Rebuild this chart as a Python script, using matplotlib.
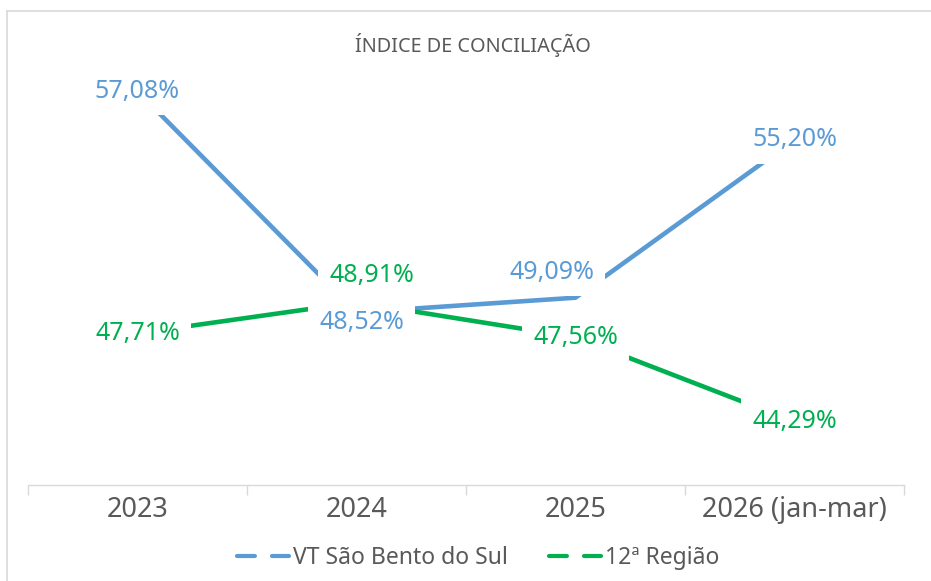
import matplotlib
matplotlib.use('Agg')
import matplotlib.pyplot as plt
from matplotlib.lines import Line2D

plt.rcParams['font.family'] = ['Noto Sans', 'DejaVu Sans']

# data
categories = ['2023', '2024', '2025', '2026 (jan-mar)']
vt_sao_bento = [57.08, 48.52, 49.09, 55.20]
regiao_12 = [47.71, 48.91, 47.56, 44.29]
vt_labels = ['57,08%', '48,52%', '49,09%', '55,20%']
regiao_labels = ['47,71%', '48,91%', '47,56%', '44,29%']

BLUE = '#5B9BD5'
GREEN = '#00B050'
GRAY_TXT = '#595959'
GRAY_LINE = '#D9D9D9'

W, H = 931, 581
fig = plt.figure(figsize=(W / 100, H / 100), dpi=100)

# plot area in pixels: x 28..904, y 60..485 (from top)
ax = fig.add_axes([28 / W, 1 - 485 / H, (904 - 28) / W, (485 - 60) / H])
ax.set_xlim(-0.5, 3.5)
ax.set_ylim(41.84, 58.29)

x = list(range(len(categories)))
ax.plot(x, vt_sao_bento, color=BLUE, lw=3.3, solid_capstyle='butt', zorder=2)
ax.plot(x, regiao_12, color=GREEN, lw=3.3, solid_capstyle='butt', zorder=2)

# label offsets in pixels (dx, dy), Excel-style manual placement
vt_off = [(0, 0), (5, -10), (-24, 25), (0, 0)]
rg_off = [(0, 0), (15, 27), (0, 0), (0, 0)]


def put_label(xi, yi, txt, col, off):
    dx, dy = off[0] * 0.72, off[1] * 0.72
    # white box behind the label hides the line, like Excel does
    ax.annotate(txt, (xi, yi), xytext=(dx, dy), textcoords='offset points',
                ha='center', va='center', fontsize=18, color=col, zorder=5,
                bbox=dict(boxstyle='square,pad=0.45', fc='white', ec='none'))


for i in x:
    put_label(i, vt_sao_bento[i], vt_labels[i], BLUE, vt_off[i])
    put_label(i, regiao_12[i], regiao_labels[i], GREEN, rg_off[i])

for s in ['top', 'right', 'left']:
    ax.spines[s].set_visible(False)
ax.spines['bottom'].set_color(GRAY_LINE)
ax.spines['bottom'].set_linewidth(1)
ax.set_yticks([])
ax.set_xticks([-0.5, 0.5, 1.5, 2.5, 3.5])
ax.set_xticklabels([])
ax.tick_params(axis='x', which='major', length=7, width=1, color=GRAY_LINE)
ax.set_xticks(x, minor=True)
ax.set_xticklabels(categories, minor=True)
ax.tick_params(axis='x', which='minor', length=0, pad=8, labelsize=19.5,
               labelcolor=GRAY_TXT)

fig.text(473 / W, 1 - 45 / H, 'ÍNDICE DE CONCILIAÇÃO', ha='center', va='center',
         fontsize=14.3, color=GRAY_TXT, fontweight='light')

handles = [
    Line2D([], [], color=BLUE, lw=3, linestyle=(0, (4.3, 4.1)), dash_capstyle='round'),
    Line2D([], [], color=GREEN, lw=3, linestyle=(0, (4.3, 4.1)), dash_capstyle='round'),
]
fig.legend(handles, ['VT São Bento do Sul', '12ª Região'], loc='center',
           bbox_to_anchor=(478 / W, 1 - 558 / H), ncol=2, frameon=False,
           fontsize=16.5, handlelength=2.29, handletextpad=0.15,
           columnspacing=1.8, borderpad=0, labelcolor=GRAY_TXT)

# chart border (only top and left visible in the crop)
fig.add_artist(Line2D([6.5 / W, 6.5 / W], [0, 1 - 11 / H], color=GRAY_LINE, lw=1.2,
                      transform=fig.transFigure))
fig.add_artist(Line2D([6.5 / W, 1], [1 - 11 / H, 1 - 11 / H], color=GRAY_LINE, lw=1.2,
                      transform=fig.transFigure))

fig.savefig('out.png', dpi=100, facecolor='white')
